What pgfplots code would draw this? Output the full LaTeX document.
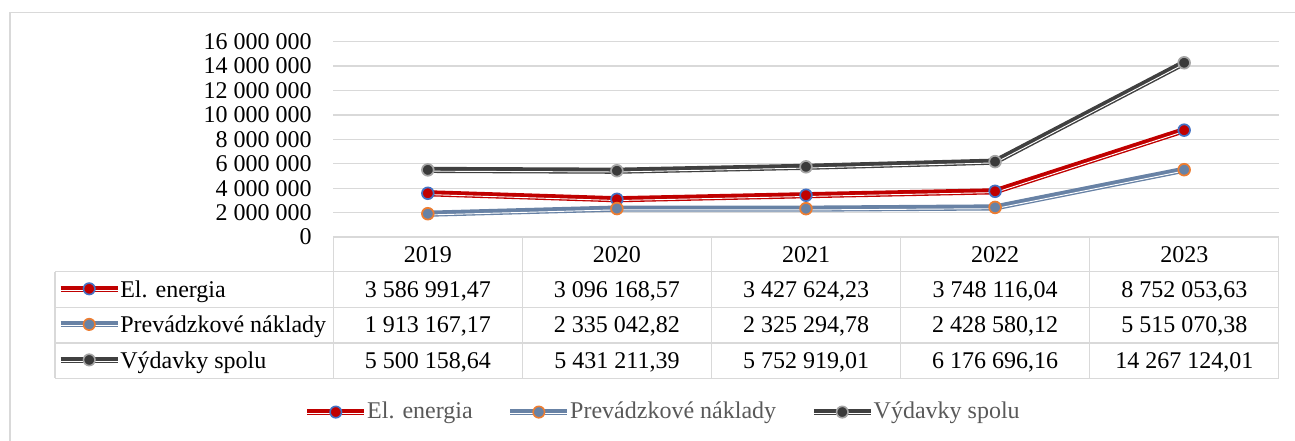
\documentclass[border=0pt]{standalone}
\usepackage{fontspec}
\setmainfont{Liberation Serif}
\usepackage{pgfplots}
\pgfplotsset{compat=1.18}
\definecolor{cred}{HTML}{C00000}
\definecolor{cblue}{HTML}{4472C4}
\definecolor{cslate}{HTML}{6882A5}
\definecolor{corange}{HTML}{ED7D31}
\definecolor{cdark}{HTML}{404040}
\definecolor{cdarkfill}{HTML}{3A3A3A}
\definecolor{cgreyb}{HTML}{A5A5A5}
\definecolor{gridgray}{HTML}{D9D9D9}
\definecolor{legendgray}{HTML}{595959}
\newcommand{\fs}{\fontsize{18pt}{21.6pt}\selectfont}
\newcommand{\gl}[3]{%
  \draw[#1, line width=4.4pt] (0pt,0pt) -- (42.75pt,0pt);
  \draw[white, line width=0.7pt] (0pt,-0.95pt) -- (42.75pt,-0.95pt);
  \draw[fill=#2, draw=#3, line width=1.2pt] (21.4pt,0pt) circle (4.3pt);
}
\pgfplotsset{
  glyphA/.style={legend image code/.code={\gl{cred}{cred}{cblue}}},
  glyphB/.style={legend image code/.code={\gl{cslate}{cslate}{corange}}},
  glyphC/.style={legend image code/.code={\gl{cdark}{cdarkfill}{cgreyb}}},
}
\begin{document}
\fs
\begin{tikzpicture}
\useasboundingbox (0,0) rectangle (971.25pt,-330.75pt);
\begin{scope}[x=0.75pt,y=-0.75pt]
\draw[gridgray, line width=1.1pt] (10,441) -- (10,12.7) -- (1295,12.7);
\end{scope}
\begin{axis}[
  at={(249.975pt,-177.825pt)}, anchor=south west,
  scale only axis, width=709.05pt, height=146.625pt,
  xmin=-0.5, xmax=4.5, ymin=0, ymax=16000000,
  xtick=\empty, scaled y ticks=false,
  ytick={0,2000000,4000000,6000000,8000000,10000000,12000000,14000000,16000000},
  yticklabels={0,2 000 000,4 000 000,6 000 000,8 000 000,10 000 000,12 000 000,14 000 000,16 000 000},
  ymajorgrids, grid style={gridgray, line width=1pt},
  axis line style={draw=none},
  major tick length=0pt,
  tick label style={font=\fs},
  yticklabel style={inner sep=0pt, xshift=-16pt},
  clip=false,
  legend style={at={(0.3477,-0.8950)}, anchor=center, draw=none, fill=none,
    inner sep=0pt, legend columns=3, font=\fs\color{legendgray},
    nodes={inner sep=0pt},
    /tikz/every even column/.append style={column sep=26pt},
    /tikz/every odd column/.append style={column sep=0pt}},
  legend cell align=left,
]
\addplot[cred, line width=4.6pt, glyphA] coordinates {(0,3586991.47) (1,3096168.57) (2,3427624.23) (3,3748116.04) (4,8752053.63)};
\addlegendentry{El. energia}
\addplot[cslate, line width=4.6pt, glyphB] coordinates {(0,1913167.17) (1,2335042.82) (2,2325294.78) (3,2428580.12) (4,5515070.38)};
\addlegendentry{Prevádzkové náklady}
\addplot[cdark, line width=4.6pt, glyphC] coordinates {(0,5500158.64) (1,5431211.39) (2,5752919.01) (3,6176696.16) (4,14267124.01)};
\addlegendentry{Výdavky spolu}
\addplot[white, line width=0.7pt, yshift=-0.95pt, forget plot] coordinates {(0,3586991.47) (1,3096168.57) (2,3427624.23) (3,3748116.04) (4,8752053.63)};
\addplot[white, line width=0.7pt, yshift=-0.95pt, forget plot] coordinates {(0,1913167.17) (1,2335042.82) (2,2325294.78) (3,2428580.12) (4,5515070.38)};
\addplot[white, line width=0.7pt, yshift=-0.95pt, forget plot] coordinates {(0,5500158.64) (1,5431211.39) (2,5752919.01) (3,6176696.16) (4,14267124.01)};
\addplot[only marks, mark=*, mark size=4.4pt, mark options={fill=cred, draw=cblue, line width=1.3pt}, forget plot] coordinates {(0,3586991.47) (1,3096168.57) (2,3427624.23) (3,3748116.04) (4,8752053.63)};
\addplot[only marks, mark=*, mark size=4.4pt, mark options={fill=cslate, draw=corange, line width=1.3pt}, forget plot] coordinates {(0,1913167.17) (1,2335042.82) (2,2325294.78) (3,2428580.12) (4,5515070.38)};
\addplot[only marks, mark=*, mark size=4.4pt, mark options={fill=cdarkfill, draw=cgreyb, line width=1.3pt}, forget plot] coordinates {(0,5500158.64) (1,5431211.39) (2,5752919.01) (3,6176696.16) (4,14267124.01)};
\end{axis}
\begin{scope}[x=0.75pt,y=-0.75pt]
\begin{scope}[gridgray, line width=1pt]
\draw (333.3,237.1) -- (1278.7,237.1);
\foreach \y in {271.7,307.3,342.9,378.3} \draw (55,\y) -- (1278.7,\y);
\draw (55,271.7) -- (55,378.3);
\foreach \x in {333.3,522.4,711.5,900.6,1089.6,1278.7} \draw (\x,237.1) -- (\x,378.3);
\end{scope}
\foreach \x/\t in {427.85/2019,616.95/2020,806.05/2021,995.15/2022,1184.25/2023}
  \node[anchor=base, inner sep=0pt] at (\x,262.7) {\t};
\foreach \x/\t in {427.85/3 586 991{,}47,616.95/3 096 168{,}57,806.05/3 427 624{,}23,995.15/3 748 116{,}04,1184.25/8 752 053{,}63}
  \node[anchor=base, inner sep=0pt] at (\x,297.3) {\t};
\foreach \x/\t in {427.85/1 913 167{,}17,616.95/2 335 042{,}82,806.05/2 325 294{,}78,995.15/2 428 580{,}12,1184.25/5 515 070{,}38}
  \node[anchor=base, inner sep=0pt] at (\x,332.9) {\t};
\foreach \x/\t in {427.85/5 500 158{,}64,616.95/5 431 211{,}39,806.05/5 752 919{,}01,995.15/6 176 696{,}16,1184.25/14 267 124{,}01}
  \node[anchor=base, inner sep=0pt] at (\x,368.4) {\t};
\node[anchor=base west, inner sep=0pt] at (120,297.3) {El. energia};
\node[anchor=base west, inner sep=0pt] at (120,332.9) {Prevádzkové náklady};
\node[anchor=base west, inner sep=0pt] at (120,368.4) {Výdavky spolu};
\begin{scope}[shift={(60.7,288.8)}]\gl{cred}{cred}{cblue}\end{scope}
\begin{scope}[shift={(60.7,324.4)}]\gl{cslate}{cslate}{corange}\end{scope}
\begin{scope}[shift={(60.7,359.9)}]\gl{cdark}{cdarkfill}{cgreyb}\end{scope}
\end{scope}
\end{tikzpicture}
\end{document}
